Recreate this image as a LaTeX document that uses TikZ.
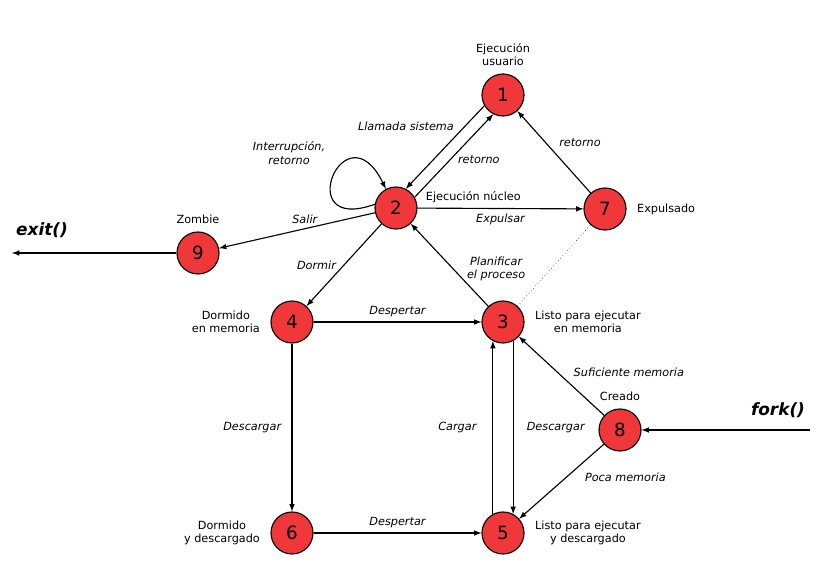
\documentclass[tikz,border=0pt]{standalone}
\usepackage{fontspec}
\setmainfont{DejaVu Sans}
\usetikzlibrary{positioning}
\usetikzlibrary{arrows}
\definecolor{estado}{rgb}{0.94, 0.22, 0.23}
\tikzset{
    state/.style={circle, draw=black, thick, fill=estado, minimum size=1.05cm, inner sep=0pt, font=\fontsize{13}{15}\selectfont},
    info/.style={font=\fontsize{8}{9.5}\selectfont, align=center},
    trans/.style={font=\fontsize{8}{9.5}\selectfont\itshape, align=center},
    flow/.style={->, >=latex, thick}
}
\begin{document}
\begin{tikzpicture}[x=0.025cm, y=-0.025cm]
            \useasboundingbox (0, 0) rectangle (820, 569);
            % estados
            \node[state] (s1) at (503, 95) {1};
            \node[state] (s2) at (396, 208) {2};
            \node[state] (s7) at (605, 209) {7};
            \node[state] (s9) at (198, 253) {9};
            \node[state] (s4) at (292, 322) {4};
            \node[state] (s3) at (503, 322) {3};
            \node[state] (s8) at (620, 430) {8};
            \node[state] (s6) at (292, 533) {6};
            \node[state] (s5) at (503, 533) {5};
            % textos de los estados
            \node[info, above=2pt of s1] {Ejecución\\usuario};
            \node[info, anchor=west] at (421, 197) {Ejecución núcleo};
            \node[info, right=4pt of s7] {Expulsado};
            \node[info, above=2pt of s9] {Zombie};
            \node[info, left=4pt of s4] {Dormido\\en memoria};
            \node[info, right=4pt of s3] {Listo para ejecutar\\en memoria};
            \node[info, above=2pt of s8] {Creado};
            \node[info, left=4pt of s6] {Dormido\\y descargado};
            \node[info, right=4pt of s5] {Listo para ejecutar\\y descargado};
            \node[font=\large\bfseries\itshape] (exit) at (42, 230) {exit()};
            \node[font=\large\bfseries\itshape] (fork) at (778, 410) {fork()};
            \coordinate (exitend) at (12, 253);
            \coordinate (forkend) at (810, 430);
            % transiciones
            \draw[flow] (s2.30) -- node[trans, right=2pt, pos=0.45] {retorno} (s1.243);
            \draw[flow] (s1.210) -- node[trans, left=4pt, pos=0.25] {Llamada sistema} (s2.63);
            \draw[flow] (s2.170) .. controls (290, 235) and (345, 105) .. (s2.118);
            \node[trans] (loop) at (289, 153) {Interrupción,\\retorno};
            \draw[flow] (s2) -- node[trans, below] {Expulsar} (s7);
            \draw[flow] (s7) -- node[trans, above right] {retorno} (s1);
            \draw[flow] (s2) -- node[trans, above, pos=0.45] {Salir} (s9);
            \draw[flow] (s9) -- (exitend);
            \draw[flow] (s2) -- node[trans, left=2pt] {Dormir} (s4);
            \draw[flow] (s4) -- node[trans, above] {Despertar} (s3);
            \draw[flow] (s3) -- node[trans, right=6pt, pos=0.45] {Planificar\\el proceso} (s2);
            \draw[thin, dotted] (s3) -- (s7);
            \draw[flow] (s4) -- node[trans, left=4pt] {Descargar} (s6);
            \draw[flow] (s6) -- node[trans, above] {Despertar} (s5);
            \draw[flow] (s5.118) -- node[trans, left=8pt] {Cargar} (s3.242);
            \draw[flow] (s3.298) -- node[trans, right=6pt] {Descargar} (s5.62);
            \draw[flow] (s8) -- node[trans, right=8pt, pos=0.55] {Suficiente memoria} (s3);
            \draw[flow] (s8) -- node[trans, right=10pt, pos=0.45] {Poca memoria} (s5);
            \draw[flow] (forkend) -- (s8);
        \end{tikzpicture}
\end{document}
